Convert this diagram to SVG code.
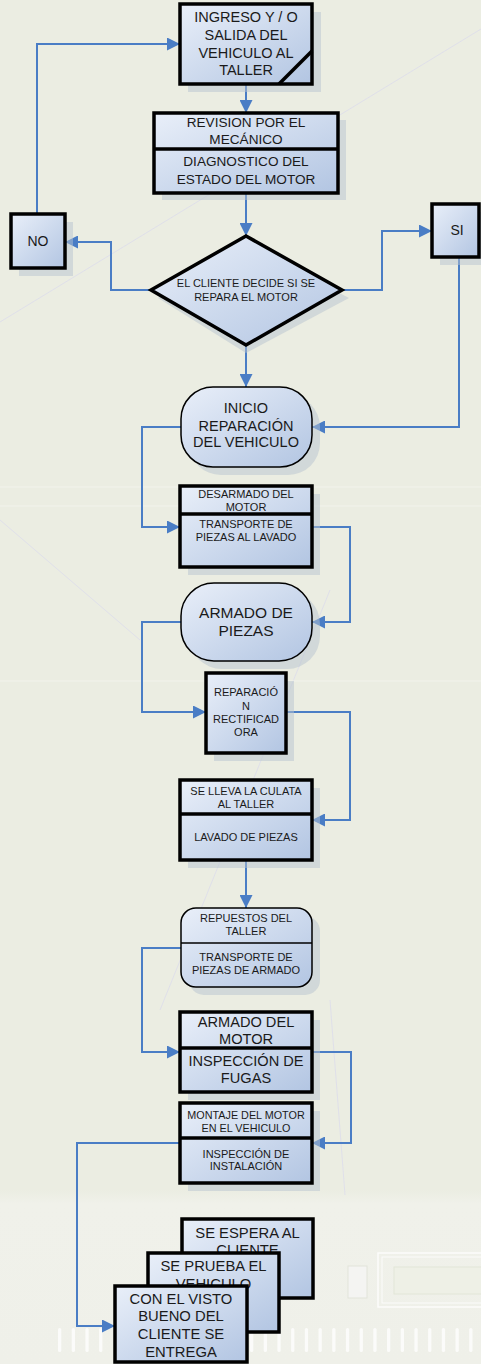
<svg xmlns="http://www.w3.org/2000/svg" width="481" height="1364" viewBox="0 0 481 1364">
<defs>
<linearGradient id="fillg" x1="0" y1="0" x2="1" y2="1">
<stop offset="0" stop-color="#E9EFF9"/>
<stop offset="1" stop-color="#B2C5E2"/>
</linearGradient>
<linearGradient id="bandg" x1="0" y1="0" x2="0" y2="1">
<stop offset="0" stop-color="#EBEDE2"/>
<stop offset="0.08" stop-color="#F0F1EA"/>
<stop offset="1" stop-color="#EFF0E9"/>
</linearGradient>
<marker id="arr" markerUnits="userSpaceOnUse" markerWidth="13" markerHeight="13" refX="13" refY="6.5" orient="auto">
<path d="M0,0 L13,6.5 L0,13 z" fill="#4A7DC5"/>
</marker>
</defs>
<style>
.box{fill:url(#fillg);stroke:#000;stroke-width:3.5}
.term{fill:url(#fillg);stroke:#000;stroke-width:1.5}
.div{stroke:#000;stroke-width:3.5}
.divt{stroke:#000;stroke-width:1.5}
.sh{fill:#B7C4CF;opacity:0.5}
.t{font-family:"Liberation Sans",Arial,sans-serif;fill:#1A1A1A;text-anchor:middle}
.c{fill:none;stroke:#4A7DC5;stroke-width:2;marker-end:url(#arr)}
.bg{fill:none;stroke:#DCDCEB;stroke-width:1;opacity:0.8}
.bar{fill:#FFFFFF;opacity:0.75}
</style>
<!-- background -->
<rect x="0" y="0" width="481" height="1364" fill="#EBEDE2"/>
<rect x="0" y="1190" width="481" height="174" fill="url(#bandg)"/>
<line class="bg" x1="481" y1="29" x2="0" y2="322"/>
<line class="bg" x1="0" y1="520" x2="140" y2="640"/>
<line class="bg" x1="330" y1="590" x2="160" y2="1010" stroke="#FFFFFF"/>
<line class="bg" x1="330" y1="1000" x2="345" y2="1195" stroke="#FFFFFF"/>
<line x1="0" y1="487" x2="481" y2="487" stroke="#F2F3EC" stroke-width="1"/>
<line x1="0" y1="506" x2="481" y2="506" stroke="#F2F3EC" stroke-width="1"/>
<line x1="0" y1="681" x2="481" y2="681" stroke="#F2F3EC" stroke-width="1"/>
<g id="bgbars">
<rect class="bar" x="58" y="1328" width="3.3" height="24" rx="1.6"/>
<rect class="bar" x="71.7" y="1328" width="3.3" height="24" rx="1.6"/>
<rect class="bar" x="85.4" y="1328" width="3.3" height="24" rx="1.6"/>
<rect class="bar" x="99.1" y="1328" width="3.3" height="24" rx="1.6"/>
<rect class="bar" x="250" y="1328" width="3.3" height="24" rx="1.6"/>
<rect class="bar" x="263.7" y="1328" width="3.3" height="24" rx="1.6"/>
<rect class="bar" x="277.4" y="1328" width="3.3" height="24" rx="1.6"/>
<rect class="bar" x="291.1" y="1328" width="3.3" height="24" rx="1.6"/>
<rect class="bar" x="304.8" y="1328" width="3.3" height="24" rx="1.6"/>
<rect class="bar" x="318.5" y="1328" width="3.3" height="24" rx="1.6"/>
<rect class="bar" x="332.2" y="1328" width="3.3" height="24" rx="1.6"/>
<rect class="bar" x="345.9" y="1328" width="3.3" height="24" rx="1.6"/>
<rect class="bar" x="359.6" y="1328" width="3.3" height="24" rx="1.6"/>
<rect class="bar" x="373.3" y="1328" width="3.3" height="24" rx="1.6"/>
<rect class="bar" x="387" y="1328" width="3.3" height="24" rx="1.6"/>
<rect class="bar" x="400.7" y="1328" width="3.3" height="24" rx="1.6"/>
<rect class="bar" x="414.4" y="1328" width="3.3" height="24" rx="1.6"/>
<rect class="bar" x="428.1" y="1328" width="3.3" height="24" rx="1.6"/>
<rect class="bar" x="441.8" y="1328" width="3.3" height="24" rx="1.6"/>
<rect class="bar" x="455.5" y="1328" width="3.3" height="24" rx="1.6"/>
<rect class="bar" x="469.2" y="1328" width="3.3" height="24" rx="1.6"/>
<rect x="348" y="1266" width="19" height="32" fill="#F4F4F2" stroke="#E2E4DA" stroke-width="1"/>
<rect x="378" y="1253" width="110" height="54" fill="none" stroke="#FFFFFF" stroke-width="1.5" opacity="0.8"/>
<rect x="382" y="1257" width="106" height="46" fill="none" stroke="#FFFFFF" stroke-width="1" opacity="0.8"/>
<rect x="394" y="1267" width="94" height="27" fill="#EEF0E6" stroke="#E2E6D8" stroke-width="1"/>
</g>
<!-- connectors -->
<g id="connectors">
<path class="c" d="M37,214 V44 H180"/>
<path class="c" d="M246,84 V113"/>
<path class="c" d="M246,193 V236"/>
<path class="c" d="M151,290 H111 V242 H65"/>
<path class="c" d="M342,290 H382 V231 H432"/>
<path class="c" d="M246,345 V387"/>
<path class="c" d="M459,257 V427 H312"/>
<path class="c" d="M181,427 H142 V527 H180"/>
<path class="c" d="M312,527 H350 V622 H312"/>
<path class="c" d="M181,622 H142 V712 H206"/>
<path class="c" d="M286,712 H350 V820 H312"/>
<path class="c" d="M246,860 V908"/>
<path class="c" d="M181,948 H142 V1052 H180"/>
<path class="c" d="M312,1052 H351 V1143 H312"/>
<path class="c" d="M180,1143 H77 V1326 H115"/>
</g>
<g id="n-ingreso">
<rect class="sh" x="188" y="12" width="133" height="80"/>
<rect class="box" x="180" y="4" width="132" height="80"/>
<line class="div" x1="279" y1="84" x2="312" y2="51"/>
<text class="t" font-size="14.5" x="246" y="22">INGRESO Y / O</text>
<text class="t" font-size="14.5" x="246" y="40">SALIDA DEL</text>
<text class="t" font-size="14.5" x="246" y="58">VEHICULO AL</text>
<text class="t" font-size="14.5" x="246" y="75">TALLER</text>
</g>
<g id="n-revision">
<rect class="sh" x="162" y="120" width="184" height="80"/>
<rect class="box" x="154" y="113" width="184" height="80"/>
<line class="div" x1="154" y1="149" x2="338" y2="149"/>
<text class="t" font-size="13.6" x="246" y="127">REVISION POR EL</text>
<text class="t" font-size="13.6" x="246" y="144">MECÁNICO</text>
<text class="t" font-size="13.6" x="246" y="166">DIAGNOSTICO DEL</text>
<text class="t" font-size="13.6" x="246" y="184">ESTADO DEL MOTOR</text>
</g>
<g id="n-no">
<rect class="sh" x="19" y="222" width="54" height="54"/>
<rect class="box" x="11" y="214" width="54" height="54"/>
<text class="t" font-size="14" x="38" y="246">NO</text>
</g>
<g id="n-si">
<rect class="sh" x="440" y="212" width="47" height="53"/>
<rect class="box" x="432" y="204" width="47" height="53"/>
<text class="t" font-size="14" x="457" y="235">SI</text>
</g>
<g id="n-decision">
<polygon class="sh" points="246,244 349,298 246,353 158,298"/>
<polygon class="box" points="246,236 342,290 246,345 151,290"/>
<text class="t" font-size="11" x="246" y="287">EL CLIENTE DECIDE SI SE</text>
<text class="t" font-size="11" x="246" y="301">REPARA EL MOTOR</text>
</g>
<g id="n-inicio">
<rect class="sh" x="189" y="395" width="131" height="80" rx="32"/>
<rect class="term" x="181" y="387" width="131" height="80" rx="32"/>
<text class="t" font-size="14.5" x="246" y="413">INICIO</text>
<text class="t" font-size="14.5" x="246" y="431">REPARACIÓN</text>
<text class="t" font-size="14.5" x="246" y="447">DEL VEHICULO</text>
</g>
<g id="n-desarmado">
<rect class="sh" x="188" y="494" width="132" height="81"/>
<rect class="box" x="180" y="486" width="132" height="81"/>
<line class="div" x1="180" y1="514" x2="312" y2="514"/>
<text class="t" font-size="11" x="246" y="498">DESARMADO DEL</text>
<text class="t" font-size="11" x="246" y="511">MOTOR</text>
<text class="t" font-size="11" x="246" y="528">TRANSPORTE DE</text>
<text class="t" font-size="11" x="246" y="541">PIEZAS AL LAVADO</text>
</g>
<g id="n-armado-piezas">
<rect class="sh" x="189" y="591" width="131" height="78" rx="33"/>
<rect class="term" x="181" y="583" width="131" height="78" rx="33"/>
<text class="t" font-size="15.5" x="246" y="618">ARMADO DE</text>
<text class="t" font-size="15.5" x="246" y="636">PIEZAS</text>
</g>
<g id="n-reparacion">
<rect class="sh" x="214" y="681" width="80" height="80"/>
<rect class="box" x="206" y="673" width="80" height="80"/>
<text class="t" font-size="11" x="246" y="696">REPARACIÓ</text>
<text class="t" font-size="11" x="246" y="710">N</text>
<text class="t" font-size="11" x="246" y="723">RECTIFICAD</text>
<text class="t" font-size="11" x="246" y="736">ORA</text>
</g>
<g id="n-culata">
<rect class="sh" x="188" y="788" width="132" height="80"/>
<rect class="box" x="180" y="780" width="132" height="80"/>
<line class="div" x1="180" y1="814" x2="312" y2="814"/>
<text class="t" font-size="11" x="246" y="795">SE LLEVA LA CULATA</text>
<text class="t" font-size="11" x="246" y="807.5">AL TALLER</text>
<text class="t" font-size="11" x="246" y="841">LAVADO DE PIEZAS</text>
</g>
<g id="n-repuestos">
<rect class="sh" x="189" y="916" width="131" height="79" rx="15"/>
<rect class="term" x="181" y="908" width="131" height="79" rx="15"/>
<line class="divt" x1="181" y1="943" x2="312" y2="943"/>
<text class="t" font-size="11" x="246" y="922">REPUESTOS DEL</text>
<text class="t" font-size="11" x="246" y="935">TALLER</text>
<text class="t" font-size="11" x="246" y="961">TRANSPORTE DE</text>
<text class="t" font-size="11" x="246" y="974">PIEZAS DE ARMADO</text>
</g>
<g id="n-armado-motor">
<rect class="sh" x="188" y="1020" width="132" height="80"/>
<rect class="box" x="180" y="1012" width="132" height="80"/>
<line class="div" x1="180" y1="1048" x2="312" y2="1048"/>
<text class="t" font-size="14.6" x="246" y="1027">ARMADO DEL</text>
<text class="t" font-size="14.6" x="246" y="1044">MOTOR</text>
<text class="t" font-size="14.6" x="246" y="1065.5">INSPECCIÓN DE</text>
<text class="t" font-size="14.6" x="246" y="1083">FUGAS</text>
</g>
<g id="n-montaje">
<rect class="sh" x="188" y="1111" width="132" height="80"/>
<rect class="box" x="180" y="1103" width="132" height="80"/>
<line class="div" x1="180" y1="1138" x2="312" y2="1138"/>
<text class="t" font-size="10.8" x="246" y="1119">MONTAJE DEL MOTOR</text>
<text class="t" font-size="10.8" x="246" y="1131.5">EN EL VEHICULO</text>
<text class="t" font-size="11" x="246" y="1157.5">INSPECCIÓN DE</text>
<text class="t" font-size="11" x="246" y="1170">INSTALACIÓN</text>
</g>
<g id="n-espera">
<rect class="box" x="182" y="1219" width="131" height="79"/>
<text class="t" font-size="14.8" x="247.5" y="1237.5">SE ESPERA AL</text>
<text class="t" font-size="14.8" x="247.5" y="1255">CLIENTE</text>
</g>
<g id="n-prueba">
<rect class="box" x="148" y="1253" width="131" height="79"/>
<text class="t" font-size="14.8" x="213.5" y="1271">SE PRUEBA EL</text>
<text class="t" font-size="14.8" x="213.5" y="1289">VEHICULO</text>
</g>
<g id="n-entrega">
<rect class="box" x="115" y="1286" width="132" height="76"/>
<text class="t" font-size="14.8" x="181" y="1303.5">CON EL VISTO</text>
<text class="t" font-size="14.8" x="181" y="1321">BUENO DEL</text>
<text class="t" font-size="14.8" x="181" y="1339">CLIENTE SE</text>
<text class="t" font-size="14.8" x="181" y="1357">ENTREGA</text>
</g>
</svg>
